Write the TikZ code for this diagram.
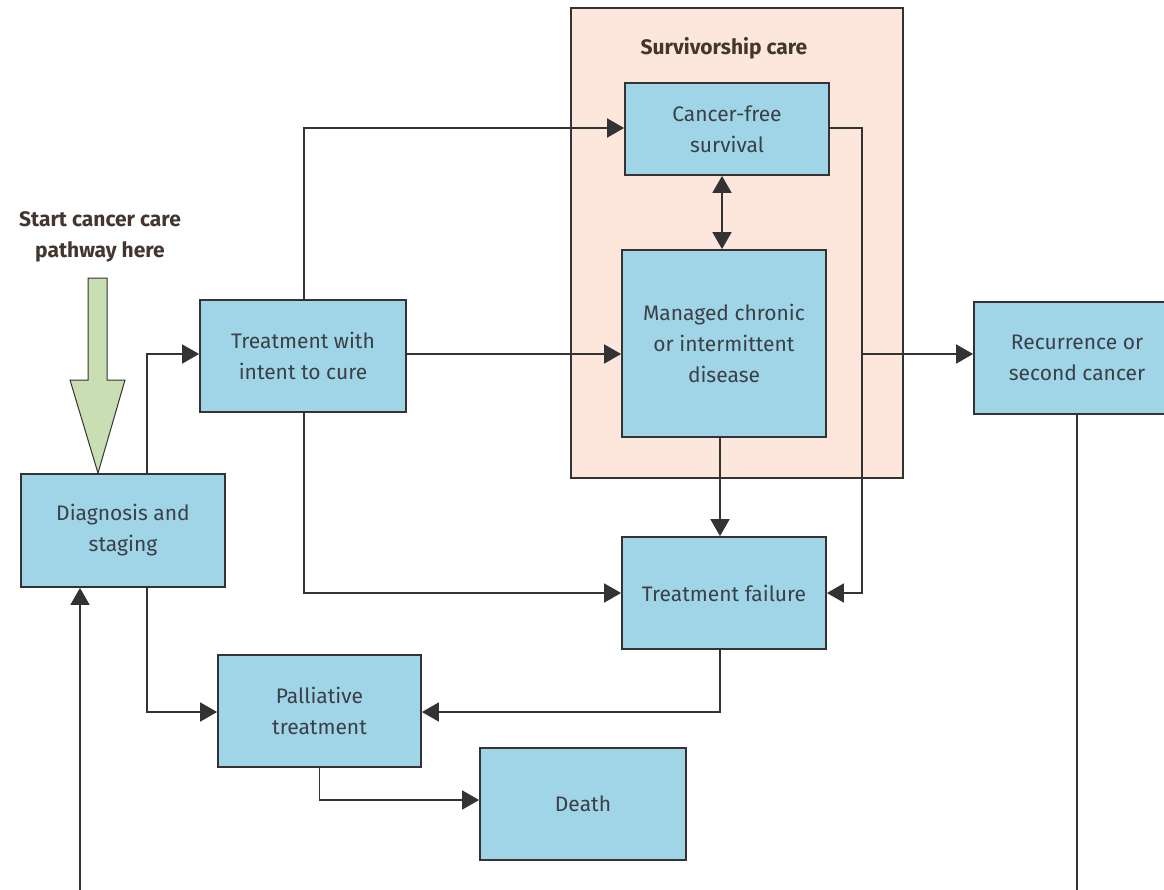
\documentclass[tikz,border=0pt]{standalone}
\usepackage{fontspec}
\setmainfont{Fira Sans}
\usepackage{tikz}
\usetikzlibrary{arrows.meta}

\definecolor{boxblue}{HTML}{9FD5E6}
\definecolor{survpink}{HTML}{FDE6DC}
\definecolor{startgreen}{HTML}{C9DEB3}
\definecolor{linegray}{HTML}{333333}
\definecolor{textgray}{HTML}{3A3F48}
\definecolor{titlebrown}{HTML}{44362E}

\begin{document}
\begin{tikzpicture}[x=1pt, y=-1pt,
        stage/.style={draw=linegray, line width=1.8pt, fill=boxblue, text=textgray,
                align=center, font=\fontsize{21}{31}\selectfont, inner sep=0pt},
        link/.style={draw=linegray, line width=1.8pt, -{Triangle[length=17pt,width=19pt]}},
        title/.style={font=\fontsize{21}{31}\selectfont\bfseries, text=titlebrown, align=center}]
        \useasboundingbox (0,0) rectangle (1164,889);

        % survivorship frame
        \node[draw=linegray, line width=1.6pt, fill=survpink, minimum width=332pt, minimum height=470pt] (surv) at (737,243) {};
        \node[title] (survlabel) at (724,48) {Survivorship care};

        % boxes
        \node[stage, minimum width=204pt, minimum height=92pt] (free) at (727,129) {Cancer-free\\survival};
        \node[stage, minimum width=204pt, minimum height=187pt] (chronic) at (724,343.5) {Managed chronic\\or intermittent\\disease};
        \node[stage, minimum width=206pt, minimum height=112pt] (recur) at (1077,358) {Recurrence or\\second cancer};
        \node[stage, minimum width=206pt, minimum height=112pt] (cure) at (303,356) {Treatment with\\intent to cure};
        \node[stage, minimum width=204pt, minimum height=113pt] (diag) at (123,530.5) {Diagnosis and\\staging};
        \node[stage, minimum width=204pt, minimum height=112pt] (fail) at (724,593) {Treatment failure};
        \node[stage, minimum width=203pt, minimum height=112pt] (pall) at (319.5,711) {Palliative\\treatment};
        \node[stage, minimum width=206pt, minimum height=112pt] (death) at (583,804) {Death};

        % start here
        \node[title] (start) at (100,237) {Start cancer care\\pathway here};
        \draw[draw=linegray, line width=1pt, fill=startgreen] (88,278) -- (107,278) -- (107,380) -- (125,380)
                -- (diag.north -| 98,0) -- (70,380) -- (88,380) -- cycle;

        % helper points
        \coordinate (rtop) at (862,128);
        \coordinate (rbot) at (862,593);
        \coordinate (rmid) at (862,354);
        \coordinate (lowL) at (80,895);
        \coordinate (lowR) at (1077,895);

        % connectors
        \draw[link] ([xshift=24pt]diag.north) |- (cure.west |- 0,354);
        \draw[link] ([xshift=1pt]cure.north) |- (free.west |- rtop);
        \draw[link] (cure.east |- 0,354) -- (chronic.west |- 0,354);
        \draw[link] ([xshift=1pt]cure.south) |- (fail.west);
        \draw[link, {Triangle[length=17pt,width=19pt]}-{Triangle[length=17pt,width=19pt]}] (free.south -| 722,0) -- (chronic.north -| 722,0);
        \draw[link] (chronic.south -| 720,0) -- (fail.north -| 720,0);
        \draw[link] (free.east |- rtop) -- (rtop) -- (rbot) -- (fail.east);
        \draw[link] (rmid) -- (recur.west |- rmid);
        \draw[link] ([xshift=24pt]diag.south) |- (pall.west |- 0,712);
        \draw[link] (fail.south -| 720,0) |- (pall.east |- 0,712);
        \draw[link] (pall.south) |- (death.west |- 0,800);
        \draw[link, -] (recur.south) -- (lowR);
        \draw[link] (lowL) -- (lowL |- diag.south);
\end{tikzpicture}
\end{document}
